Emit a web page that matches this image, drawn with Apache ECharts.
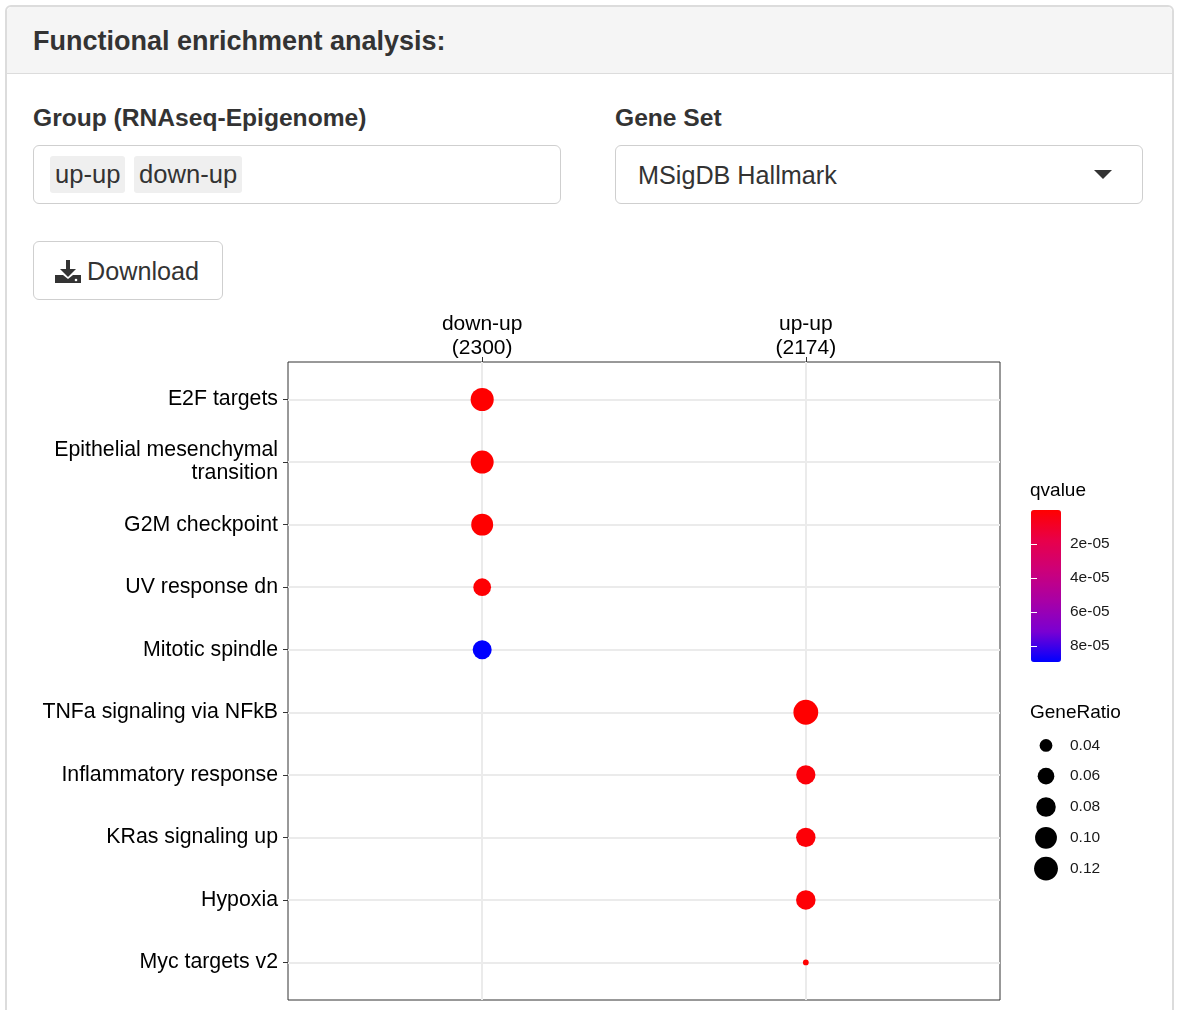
<!DOCTYPE html>
<html>
<head>
<meta charset="utf-8">
<title>Functional enrichment analysis</title>
<script src="https://cdn.jsdelivr.net/npm/echarts@6/dist/echarts.min.js"></script>
<style>
body{margin:0;background:#fff;font-family:"Liberation Sans",Arial,sans-serif;color:#333;}
#page{position:relative;width:1182px;height:1010px;overflow:hidden;}
.panel{position:absolute;left:5px;top:5px;width:1165px;height:1100px;border:2px solid #dcdcdc;border-radius:6px;}
.panel-head{position:absolute;left:0;top:0;right:0;height:66px;background:#f5f5f5;border-bottom:1px solid #dcdcdc;border-radius:5px 5px 0 0;}
.panel-head span{position:absolute;left:26px;top:19px;font-size:27px;font-weight:bold;color:#333;}
.lbl{position:absolute;font-size:24.6px;font-weight:bold;color:#333;}
.box{position:absolute;border:1.5px solid #cfcfcf;border-radius:6px;background:#fff;box-sizing:border-box;}
.tag{position:absolute;top:10px;height:37px;line-height:37px;background:#efefef;border-radius:3px;font-size:25.6px;color:#333;padding:0 5px;}
.txt{position:absolute;font-size:25.2px;color:#333;}
#chart{position:absolute;left:0;top:300px;width:1182px;height:710px;}
</style>
</head>
<body>
<div id="page">
  <div class="panel">
    <div class="panel-head"><span>Functional enrichment analysis:</span></div>
  </div>
  <div class="lbl" style="left:33px;top:104px;">Group (RNAseq-Epigenome)</div>
  <div class="box" style="left:33px;top:145px;width:528px;height:59px;">
    <div class="tag" style="left:16px;">up-up</div>
    <div class="tag" style="left:100px;">down-up</div>
  </div>
  <div class="lbl" style="left:615px;top:104px;">Gene Set</div>
  <div class="box" style="left:615px;top:145px;width:528px;height:59px;">
    <div class="txt" style="left:22px;top:15px;">MSigDB Hallmark</div>
    <svg style="position:absolute;left:478px;top:24px;" width="18" height="10"><polygon points="0,0 18,0 9,9" fill="#333"/></svg>
  </div>
  <div class="box" style="left:33px;top:241px;width:190px;height:59px;">
    <svg style="position:absolute;left:21px;top:18px;" width="26" height="24" viewBox="0 0 26 24">
      <rect x="11" y="0" width="4" height="11" fill="#333"/>
      <polygon points="5,9 21,9 13,17" fill="#333"/>
      <path d="M0 15 h8 l5 4 l5 -4 h8 v8 h-26 z" fill="#333"/>
      <circle cx="21" cy="20" r="1.3" fill="#fff"/>
    </svg>
    <div class="txt" style="left:53px;top:15px;">Download</div>
  </div>
  <div id="chart"></div>
</div>
<script>
// enrichment result (clusterProfiler compareCluster, MSigDB Hallmark)
var terms = ['E2F targets', 'Epithelial mesenchymal\ntransition', 'G2M checkpoint', 'UV response dn', 'Mitotic spindle',
             'TNFa signaling via NFkB', 'Inflammatory response', 'KRas signaling up', 'Hypoxia', 'Myc targets v2'];
var clusters = ['down-up\n(2300)', 'up-up\n(2174)'];
var termCluster = [0, 0, 0, 0, 0, 1, 1, 1, 1, 1];
var geneRatio = [0.112, 0.111, 0.101, 0.067, 0.076, 0.130, 0.078, 0.079, 0.080, 0.026];
var qvalue = [2.1e-9, 3.5e-9, 1.2e-7, 9.8e-7, 8.94e-5, 1.5e-10, 2.2e-6, 1.8e-6, 1.1e-6, 3.0e-7];
var sizeBreaks = [0.04, 0.06, 0.08, 0.10, 0.12];
var qBreaks = [2e-5, 4e-5, 6e-5, 8e-5];

var rMin = Math.min.apply(null, geneRatio), rMax = Math.max.apply(null, geneRatio);
var qMin = Math.min.apply(null, qvalue), qMax = Math.max.apply(null, qvalue);

// area style size scale (diameter grows with sqrt of ratio)
function dotSize(r){
	var t = (r - rMin) / (rMax - rMin);
	if(t < 0) t = 0;
	return 5.8 + 19 * Math.sqrt(t);
}
function sci(v){
	var p = v.toExponential(0).split('e');
	var e = parseInt(p[1], 10);
	return p[0] + 'e' + (e < 0 ? '-' : '+') + (Math.abs(e) < 10 ? '0' : '') + Math.abs(e);
}

var dots = [];
for(var i=0;i<terms.length;i++){
	dots.push([termCluster[i] + 1, i + 1, geneRatio[i], qvalue[i]]);
}
var legendDots = [];
for(var j=0;j<sizeBreaks.length;j++){
	legendDots.push([0, j, sizeBreaks[j]]);
}
var yTicks = [], xTicks = [];
for(var k=1;k<=terms.length;k++) yTicks.push(k);
for(var k2=1;k2<=clusters.length;k2++) xTicks.push(k2);

option = {
	animation: false,
	textStyle: {fontFamily: 'Liberation Sans'},
	title: [
		{text:'qvalue', left:1030, top:181, padding:0, textStyle:{fontSize:19, fontWeight:'normal', color:'#000'}},
		{text:'GeneRatio', left:1030, top:403, padding:0, textStyle:{fontSize:19, fontWeight:'normal', color:'#000'}}
	],
	grid: [
		{left:288, top:62, width:712, height:638, show:true, borderColor:'#333', borderWidth:1, backgroundColor:'transparent'},
		{left:1031, top:210, width:30, height:152, show:false},
		{left:1031, top:430, width:30, height:154, show:false}
	],
	xAxis: [
		{
			gridIndex:0, type:'value', position:'top', min:0.4, max:2.6,
			axisLine:{show:false},
			axisTick:{show:true, customValues:xTicks, length:5, lineStyle:{color:'#333'}},
			axisLabel:{customValues:xTicks, formatter:function(v){return clusters[v-1];}, fontSize:21, lineHeight:24, margin:2, color:'#000'},
			splitLine:{show:true, lineStyle:{color:'#ebebeb', width:2}}
		},
		{gridIndex:1, type:'value', min:0, max:1, show:false},
		{gridIndex:2, type:'value', min:-1, max:1, show:false}
	],
	yAxis: [
		{
			gridIndex:0, type:'value', inverse:true, min:0.4, max:10.6,
			axisLine:{show:false},
			axisTick:{show:true, customValues:yTicks, length:5, lineStyle:{color:'#333'}},
			axisLabel:{customValues:yTicks, formatter:function(v){return terms[v-1];}, fontSize:21.3, lineHeight:23, margin:10, color:'#000', align:'right', padding:[6,0,0,0]},
			splitLine:{show:true, lineStyle:{color:'#ebebeb', width:2}}
		},
		{
			gridIndex:1, type:'value', inverse:true, min:qMin, max:qMax, position:'right', z:10,
			axisLine:{show:false},
			axisTick:{show:true, inside:true, length:6, customValues:qBreaks, lineStyle:{color:'#fff', width:1}},
			axisLabel:{customValues:qBreaks, formatter:sci, fontSize:15.5, margin:9, color:'#1a1a1a', padding:[2,0,0,0]},
			splitLine:{show:false}
		},
		{
			gridIndex:1, type:'value', inverse:true, min:qMin, max:qMax, position:'left', z:10,
			axisLine:{show:false},
			axisTick:{show:true, inside:true, length:6, customValues:qBreaks, lineStyle:{color:'#fff', width:1}},
			axisLabel:{show:false},
			splitLine:{show:false}
		},
		{
			gridIndex:2, type:'category', inverse:true, position:'right',
			data: sizeBreaks.map(function(v){return v.toFixed(2);}),
			axisLine:{show:false}, axisTick:{show:false},
			axisLabel:{fontSize:15.5, margin:9, color:'#1a1a1a', padding:[2,0,0,0]},
			splitLine:{show:false}
		}
	],
	visualMap: [{
		type:'continuous', seriesIndex:0, dimension:3,
		min:qMin, max:qMax, inverse:true, calculable:false,
		left:1031, top:210, itemWidth:30, itemHeight:152, padding:0, z:2,
		inRange:{color:['#FF0000','#E8004A','#CC007A','#A800A6','#7A00D2','#0000FF']}
	}],
	series: [
		{
			type:'scatter', xAxisIndex:0, yAxisIndex:0, data:dots,
			symbolSize:function(v){return dotSize(v[2]);},
			itemStyle:{opacity:1},
			z:5
		},
		{
			type:'scatter', xAxisIndex:2, yAxisIndex:3, data:legendDots,
			symbolSize:function(v){return dotSize(v[2]);},
			itemStyle:{color:'#000', opacity:1}
		}
	]
};

var mychart = echarts.init(document.getElementById('chart'));
mychart.setOption(option);
</script>
</body>
</html>
